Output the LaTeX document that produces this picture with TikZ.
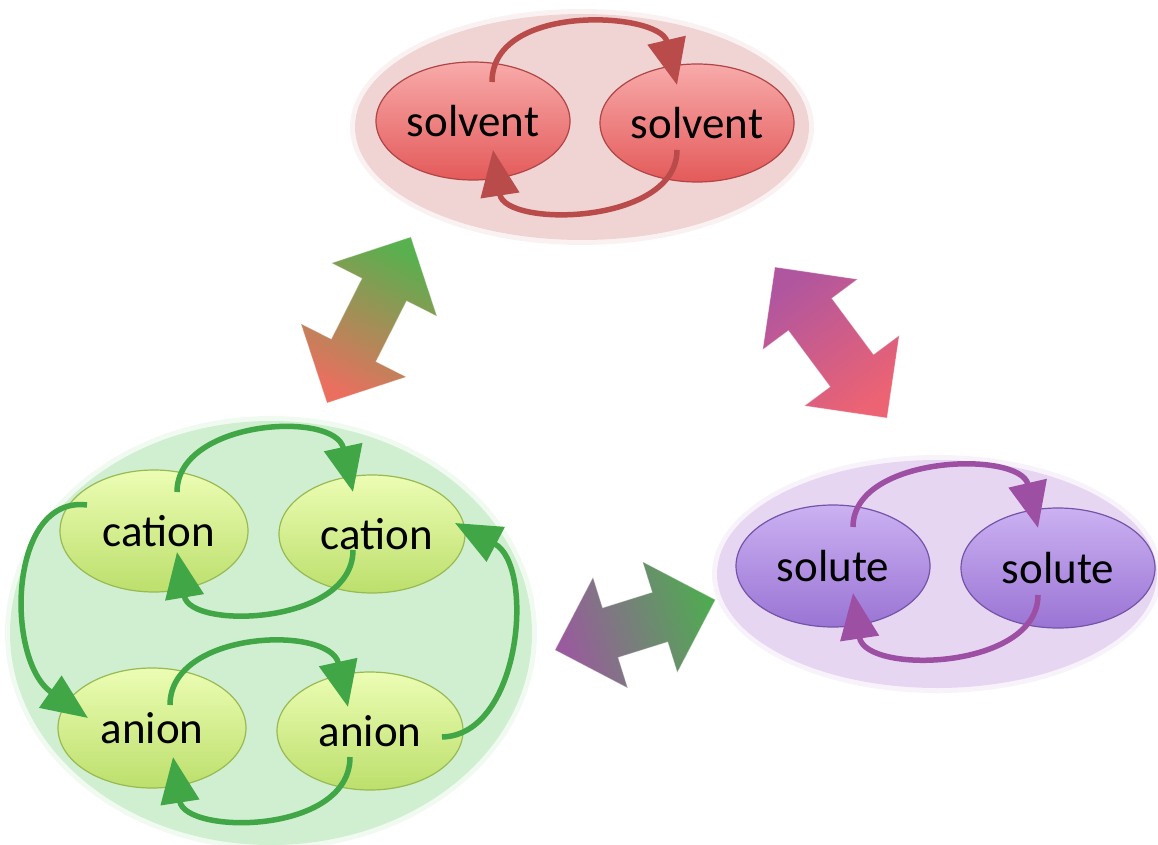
\documentclass[tikz,border=0pt]{standalone}
\usepackage{fontspec}
\setmainfont{Carlito}
\usetikzlibrary{shapes.geometric,arrows.meta}

% group backgrounds
\definecolor{redbg}{HTML}{F0D3D3}
\definecolor{greenbg}{HTML}{D0EFD1}
\definecolor{purplebg}{HTML}{E7D6F2}
% item ovals
\definecolor{redtop}{HTML}{F8AAAA}
\definecolor{redbot}{HTML}{E45A5A}
\definecolor{redline}{HTML}{B04545}
\definecolor{greentop}{HTML}{ECFDB4}
\definecolor{greenbot}{HTML}{BCDF6C}
\definecolor{greenline}{HTML}{98BA52}
\definecolor{purpletop}{HTML}{CBB1F2}
\definecolor{purplebot}{HTML}{9A74D4}
\definecolor{purpleline}{HTML}{7454A8}
% exchange loops
\definecolor{redloop}{HTML}{BA4B4B}
\definecolor{greenloop}{HTML}{40A646}
\definecolor{purpleloop}{HTML}{9C4FA3}
% block arrows
\definecolor{arrgreen}{HTML}{58B04E}
\definecolor{arrred}{HTML}{EA6F5F}
\definecolor{arrpurple}{HTML}{B0569F}
\definecolor{arrpink}{HTML}{EC6373}
\definecolor{arrviolet}{HTML}{9A5A9E}
\definecolor{arrgreen2}{HTML}{50AA52}

\begin{document}
\begin{tikzpicture}[x=1pt,y=1pt,
  groupoval/.style={ellipse, inner sep=0pt, draw=none},
  item/.style={ellipse, inner sep=0pt, line width=1.2pt,
    font=\fontsize{45}{52}\selectfont},
  solventitem/.style={item, top color=redtop, bottom color=redbot, draw=redline},
  ionitem/.style={item, top color=greentop, bottom color=greenbot, draw=greenline},
  soluteitem/.style={item, top color=purpletop, bottom color=purplebot, draw=purpleline},
  loopline/.style={line width=5.5pt, -{Triangle[length=46pt,width=38pt]}},
  blockedge/.style={line width=0.8pt, line join=miter}
]
\useasboundingbox (0,0) rectangle (1158,-845);

% ---------- group backgrounds ----------
\node[groupoval, fill=redbg, opacity=0.3, minimum width=464pt, minimum height=236pt] at (582,-127) {};
\node[groupoval, fill=redbg, minimum width=454pt, minimum height=226pt] (solventbg) at (582,-127) {};
\node[groupoval, fill=greenbg, opacity=0.3, minimum width=532pt, minimum height=434pt] at (271,-633) {};
\node[groupoval, fill=greenbg, minimum width=522pt, minimum height=424pt] (ionbg) at (271,-633) {};
\node[groupoval, fill=purplebg, opacity=0.3, minimum width=450pt, minimum height=238pt] at (937,-574) {};
\node[groupoval, fill=purplebg, minimum width=440pt, minimum height=228pt] (solutebg) at (937,-574) {};

% ---------- item ovals ----------
\node[solventitem, minimum width=194pt, minimum height=118pt] (sl) at (473,-121) {solvent};
\node[solventitem, minimum width=194pt, minimum height=118pt] (sr) at (697,-123) {solvent};

\node[ionitem, minimum width=188pt, minimum height=122pt] (cl) at (154,-531) {\hspace{10pt}cation};
\node[ionitem, minimum width=186pt, minimum height=118pt] (cr) at (372,-534) {\hspace{10pt}cation};
\node[ionitem, minimum width=188pt, minimum height=120pt] (al) at (152,-728) {anion};
\node[ionitem, minimum width=186pt, minimum height=118pt] (ar) at (370,-731) {anion};

\node[soluteitem, minimum width=194pt, minimum height=122pt] (ul) at (833,-566) {solute};
\node[soluteitem, minimum width=194pt, minimum height=120pt] (ur) at (1058,-568) {solute};

% ---------- exchange loops ----------
\draw[loopline, redloop] ([shift={(19,39)}]sl.center)
  .. controls (492,-2) and (660,-12) .. ([shift={(-20,38)}]sr.center);
\draw[loopline, redloop] ([shift={(-20,-27)}]sr.center)
  .. controls (677,-225) and (505,-228) .. ([shift={(20,-29)}]sl.center);

\draw[loopline, greenloop] ([shift={(23,39)}]cl.center)
  .. controls (177,-420) and (335,-410) .. ([shift={(-19,42)}]cr.center);
\draw[loopline, greenloop] ([shift={(-19,-16)}]cr.center)
  .. controls (353,-625) and (190,-630) .. ([shift={(23,-21)}]cl.center);
\draw[loopline, greenloop] ([shift={(18,23)}]al.center)
  .. controls (170,-630) and (330,-625) .. ([shift={(-22,24)}]ar.center);
\draw[loopline, greenloop] ([shift={(-20,-26)}]ar.center)
  .. controls (350,-835) and (185,-835) .. ([shift={(21,-29)}]al.center);
\draw[loopline, greenloop] ([shift={(-67,26)}]cl.center)
  .. controls (8,-495) and (5,-660) .. ([shift={(-64,10)}]al.center);
\draw[loopline, greenloop] ([shift={(72,-6)}]ar.center)
  .. controls (522,-735) and (535,-565) .. ([shift={(83,11)}]cr.center);

\draw[loopline, purpleloop] ([shift={(20,39)}]ul.center)
  .. controls (853,-455) and (1020,-450) .. ([shift={(-20,40)}]ur.center);
\draw[loopline, purpleloop] ([shift={(-20,-27)}]ur.center)
  .. controls (1038,-670) and (865,-675) .. ([shift={(20,-27)}]ul.center);

% ---------- double block arrows between the groups ----------
% ions <-> solvent
\begin{scope}[shift={(327,-403)}, rotate=63.2]
  \path[top color=arrgreen, bottom color=arrred, shading angle=-26.8]
    (0,0) -- (59,59) -- (59,25) -- (127,25) -- (127,59) -- (186,0)
    -- (127,-59) -- (127,-25) -- (59,-25) -- (59,-59) -- cycle;
  \draw[blockedge, white, opacity=0.35]
    (0,0) -- (59,59) -- (59,25) -- (127,25) -- (127,59) -- (186,0)
    -- (127,-59) -- (127,-25) -- (59,-25) -- (59,-59) -- cycle;
\end{scope}
% solvent <-> solute
\begin{scope}[shift={(887,-418)}, rotate=126.6]
  \path[top color=arrpurple, bottom color=arrpink, shading angle=36.6]
    (0,0) -- (59,59) -- (59,27) -- (129,27) -- (129,59) -- (188,0)
    -- (129,-59) -- (129,-27) -- (59,-27) -- (59,-59) -- cycle;
  \draw[blockedge, white, opacity=0.35]
    (0,0) -- (59,59) -- (59,27) -- (129,27) -- (129,59) -- (188,0)
    -- (129,-59) -- (129,-27) -- (59,-27) -- (59,-59) -- cycle;
\end{scope}
% ions <-> solute
\begin{scope}[shift={(555,-650)}, rotate=17.4]
  \path[top color=arrgreen2, bottom color=arrviolet, shading angle=-72.6]
    (0,0) -- (58,58) -- (58,26) -- (110,26) -- (110,58) -- (168,0)
    -- (110,-58) -- (110,-26) -- (58,-26) -- (58,-58) -- cycle;
  \draw[blockedge, white, opacity=0.35]
    (0,0) -- (58,58) -- (58,26) -- (110,26) -- (110,58) -- (168,0)
    -- (110,-58) -- (110,-26) -- (58,-26) -- (58,-58) -- cycle;
\end{scope}
\end{tikzpicture}
\end{document}
